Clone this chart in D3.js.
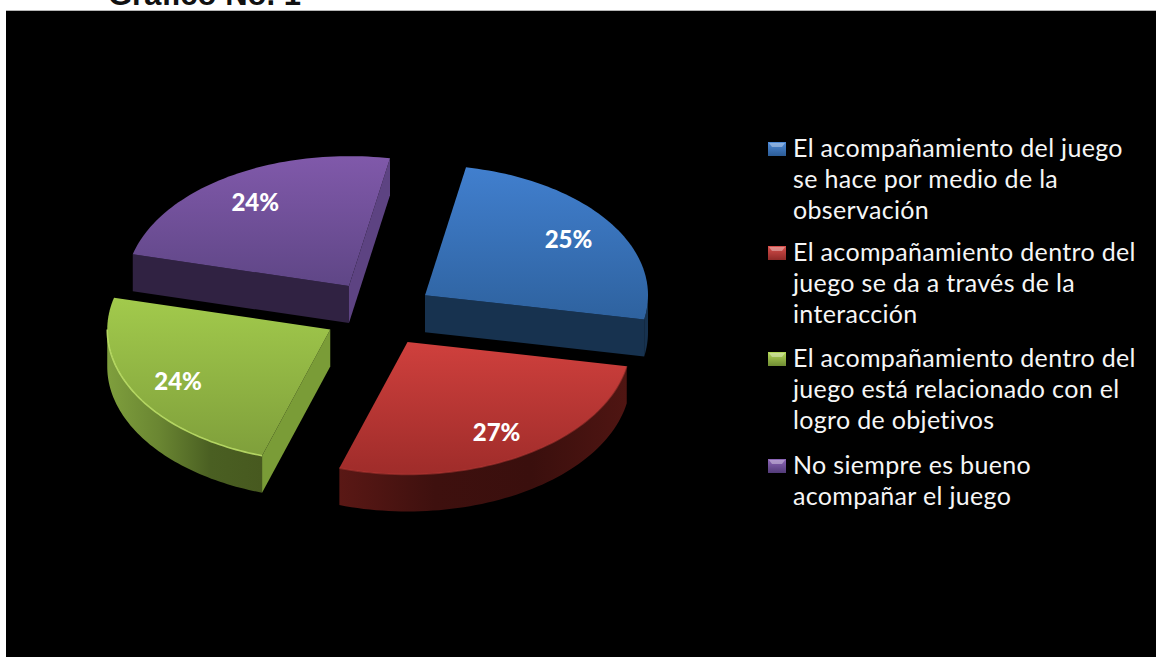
<!DOCTYPE html>
<html lang="es">
<head>
<meta charset="utf-8">
<title>Gráfico No. 1</title>
<script src="https://cdnjs.cloudflare.com/ajax/libs/d3/7.8.5/d3.min.js"></script>
<style>
  html, body { margin: 0; padding: 0; background: #fff; overflow: hidden; }
  svg { display: block; }
</style>
</head>
<body>
<svg id="chart" width="1156" height="657"></svg>
<script>
// Respuestas agrupadas por tipo de acompañamiento del juego
const shares = [25, 27, 24, 24];
const percentLabels = ["25%", "27%", "24%", "24%"];
const legendLines = [
  ["El acompañamiento del juego", "se hace por medio de la", "observación"],
  ["El acompañamiento dentro del", "juego se da a través de la", "interacción"],
  ["El acompañamiento dentro del", "juego está relacionado con el", "logro de objetivos"],
  ["No siempre es bueno", "acompañar el juego"]
];
const legendFirstBaseline = [157, 261, 367, 474];

const topColors = [["#417fce", "#2e629f"], ["#cf403d", "#9f2c2a"], ["#a2ca4c", "#7f9f3b"], ["#8059aa", "#5f4686"]];
const cutColors = ["#17324f", "#4d1613", "#7a9c37", "#302242"];
const endColors = ["#17324f", "#4d1613", "#7a9c37", "#5d4382"];
const sideStops = [
  ["#17324f", "#17324f"],
  ["#5a1815", "#3e100e", "#3a0f0d", "#4f1512"],
  ["#7f9f3d", "#6a8632", "#4a5f22", "#47591f"],
  ["#302242", "#302242"]
];
// Brillo del borde frontal de cada porción
const rimColors = ["#2e629f", "#b93a36", "#bcdf68", "#5f4686"];
const rimOpacity = [0, 0.5, 0.9, 0];
const swatchColors = [["#4f8bd8", "#2c5c96"], ["#d9504c", "#8f2a28"], ["#b4d858", "#6f8c33"], ["#8d66b8", "#523b78"]];

const svg = d3.select("#chart");
const defs = svg.append("defs");

// Proyección de la torta inclinada; la mitad delantera se ve un poco más grande
const center = { x: 379, y: 313.5 };
const rx = 223, ryBack = 130, ryFront = 132.5, depth = 37, explode = 0.25;
const project = (a, r, o) => {
  const c = Math.cos(a);
  return [o[0] + r * rx * Math.sin(a), o[1] - r * (c < 0 ? ryFront : ryBack) * c];
};
const line = d3.line();

const rad = d => d * Math.PI / 180;
const slices = d3.pie().sort(null).startAngle(rad(10.6)).endAngle(rad(370.6))(shares);

// Título, recortado por el borde superior de la página
svg.append("text")
  .attr("x", 108).attr("y", 5)
  .attr("font-family", "Liberation Sans, Arial, sans-serif")
  .attr("font-weight", 700).attr("font-size", 31)
  .attr("fill", "#111")
  .text("Gráfico No. 1");

// Fondo negro del gráfico
svg.append("rect").attr("x", 6).attr("y", 10).attr("width", 1150).attr("height", 1).attr("fill", "#b5b5b5");
svg.append("rect").attr("x", 6).attr("y", 11).attr("width", 1150).attr("height", 646).attr("fill", "#000");

// Gradientes de cada porción
topColors.forEach((c, i) => {
  const g = defs.append("linearGradient").attr("id", `top${i}`).attr("x1", 0).attr("y1", 0).attr("x2", 0).attr("y2", 1);
  g.selectAll("stop").data(c).join("stop")
    .attr("offset", (d, k) => k / (c.length - 1)).attr("stop-color", d => d);
});
sideStops.forEach((c, i) => {
  const g = defs.append("linearGradient").attr("id", `side${i}`).attr("x1", 0).attr("y1", 0).attr("x2", 1).attr("y2", 0);
  g.selectAll("stop").data(c).join("stop")
    .attr("offset", (d, k) => k / (c.length - 1)).attr("stop-color", d => d);
});
swatchColors.forEach((c, i) => {
  const g = defs.append("linearGradient").attr("id", `swatch${i}`).attr("x1", 0).attr("y1", 0).attr("x2", 0).attr("y2", 1);
  g.selectAll("stop").data(c).join("stop")
    .attr("offset", (d, k) => k).attr("stop-color", d => d);
});

const arcPoints = (a0, a1, o) => d3.range(0, 61).map(k => project(a0 + (a1 - a0) * k / 60, 1, o));
const down = p => [p[0], p[1] + depth];

// Porciones de atrás hacia adelante
[3, 0, 2, 1].forEach(i => {
  const s = slices[i];
  const mid = (s.startAngle + s.endAngle) / 2;
  const apex = project(mid, explode, [center.x, center.y]);
  const g = svg.append("g");

  // Caras radiales visibles
  if (Math.sin(s.startAngle) < 0) {
    const e = project(s.startAngle, 1, apex);
    g.append("path").attr("d", line([apex, e, down(e), down(apex)]) + "Z").attr("fill", cutColors[i]);
  }
  if (Math.sin(s.endAngle) > 0) {
    const e = project(s.endAngle, 1, apex);
    g.append("path").attr("d", line([apex, e, down(e), down(apex)]) + "Z").attr("fill", endColors[i]);
  }

  // Pared curva: solo la parte que mira al frente
  const from = Math.max(s.startAngle, Math.PI / 2), to = Math.min(s.endAngle, Math.PI * 1.5);
  if (from < to) {
    const arc = arcPoints(from, to, apex);
    g.append("path").attr("d", line(arc.concat(arc.map(down).reverse())) + "Z").attr("fill", `url(#side${i})`);
  }

  // Cara superior
  const rim = arcPoints(s.startAngle, s.endAngle, apex);
  g.append("path").attr("d", line([apex].concat(rim)) + "Z").attr("fill", `url(#top${i})`);
  if (from < to && rimOpacity[i] > 0) {
    g.append("path").attr("d", line(arcPoints(from, to, apex))).attr("fill", "none")
      .attr("stroke", rimColors[i]).attr("stroke-width", 1.6).attr("stroke-opacity", rimOpacity[i]);
  }

  // Porcentaje sobre la cara superior
  const pos = project(mid, 0.78, apex);
  g.append("text")
    .attr("x", pos[0]).attr("y", pos[1] + 10)
    .attr("text-anchor", "middle")
    .attr("font-family", "Lato, sans-serif").attr("font-weight", 900).attr("font-size", 24)
    .attr("fill", "#fff")
    .text(percentLabels[i]);
});

// Leyenda
legendLines.forEach((lines, i) => {
  const y0 = legendFirstBaseline[i];
  const g = svg.append("g");
  const x0 = 768, w = 18, h = 14, top = y0 - 15;
  g.append("rect").attr("x", x0).attr("y", top).attr("width", w).attr("height", h).attr("fill", `url(#swatch${i})`);
  g.append("path")
    .attr("d", line([[x0 + 1, top + 1], [x0 + w - 1, top + 1], [x0 + w - 4, top + 5], [x0 + 4, top + 5]]) + "Z")
    .attr("fill", "#fff").attr("fill-opacity", 0.35);
  g.selectAll("text").data(lines).join("text")
    .attr("x", 793)
    .attr("y", (d, k) => y0 + k * 31)
    .attr("font-family", "Lato, sans-serif").attr("font-size", 25)
    .attr("letter-spacing", 0.33)
    .attr("fill", "#f6f6f6")
    .text(d => d);
});
</script>
</body>
</html>
